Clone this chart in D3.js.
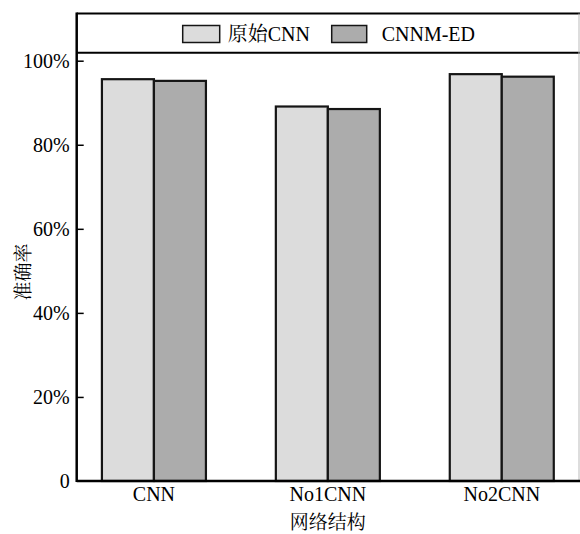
<!DOCTYPE html>
<html><head><meta charset="utf-8">
<script src="https://cdn.jsdelivr.net/npm/d3@7"></script>
<style>body{margin:0;background:#fff}svg{display:block}</style>
</head><body>
<script>
const categories = ["CNN", "No1CNN", "No2CNN"];
const seriesNames = ["原始CNN", "CNNM-ED"];
const original = [0.956, 0.891, 0.968];
const cnnmed = [0.952, 0.885, 0.962];
const yTicks = [0, 0.2, 0.4, 0.6, 0.8, 1.0];
const yTickLabels = ["0", "20%", "40%", "60%", "80%", "100%"];
const colors = ["#dcdcdc", "#acacac"];

const W = 580, H = 534;
const mLeft = 76.7, mRight = 579, mTop = 13.5, legendBottom = 52.7, mBottom = 481;
const font = "Liberation Serif, Noto Serif CJK SC, Noto Sans CJK SC, serif";

const svg = d3.select("body").append("svg").attr("width", W).attr("height", H)
  .attr("font-family", font);

const x = d3.scaleBand().domain(categories).range([mLeft, mRight])
  .paddingInner(0.402).paddingOuter(0.145);
const xs = d3.scaleBand().domain(seriesNames).range([0, x.bandwidth()]);
const y = d3.scaleLinear().domain([0, 1]).range([mBottom, 60.7]);

const data = categories.map((c, i) => ({cat: c, vals: [original[i], cnnmed[i]]}));

// bars
const g = svg.append("g");
data.forEach(d => {
  d.vals.forEach((v, j) => {
    g.append("rect")
      .attr("x", x(d.cat) + xs(seriesNames[j]))
      .attr("y", y(v))
      .attr("width", xs.bandwidth())
      .attr("height", y(0) - y(v))
      .attr("fill", colors[j])
      .attr("stroke", "#151515")
      .attr("stroke-width", 2.2);
  });
});

// frame
svg.append("line").attr("x1", mLeft).attr("x2", W).attr("y1", mTop).attr("y2", mTop)
  .attr("stroke", "#000").attr("stroke-width", 2);
svg.append("line").attr("x1", mLeft).attr("x2", W).attr("y1", legendBottom).attr("y2", legendBottom)
  .attr("stroke", "#000").attr("stroke-width", 2);
svg.append("line").attr("x1", mRight).attr("x2", mRight).attr("y1", mTop).attr("y2", mBottom)
  .attr("stroke", "#bbb").attr("stroke-width", 1);

// y axis
const yAxis = d3.axisLeft(y).tickValues(yTicks).tickFormat((d, i) => yTickLabels[i])
  .tickSizeInner(-7).tickSizeOuter(0).tickPadding(7);
const ya = svg.append("g").attr("transform", `translate(${mLeft},0)`).call(yAxis)
  .attr("font-family", font).attr("font-size", 20);
ya.select(".domain").remove();
ya.selectAll(".tick line").attr("stroke", "#000").attr("stroke-width", 1.5)
  .filter(d => d === 0).remove();
ya.selectAll(".tick text").attr("fill", "#000");
svg.append("line").attr("x1", mLeft).attr("x2", mLeft).attr("y1", mTop - 1).attr("y2", mBottom + 1)
  .attr("stroke", "#000").attr("stroke-width", 2.5);

// x axis
const xAxis = d3.axisBottom(x).tickSize(0).tickPadding(6);
const xa = svg.append("g").attr("transform", `translate(0,${mBottom})`).call(xAxis)
  .attr("font-family", font).attr("font-size", 20);
xa.select(".domain").remove();
xa.selectAll(".tick text").attr("fill", "#000");
svg.append("line").attr("x1", mLeft).attr("x2", W).attr("y1", mBottom).attr("y2", mBottom)
  .attr("stroke", "#000").attr("stroke-width", 2.5);

// axis titles
svg.append("text").attr("x", x(categories[1]) + x.bandwidth() / 2).attr("y", 529)
  .attr("text-anchor", "middle").attr("font-size", 19).text("网络结构");
svg.append("text").attr("transform", `translate(30,272) rotate(-90)`)
  .attr("text-anchor", "middle").attr("font-size", 19).text("准确率");

// legend
const legendX = [182.7, 331.7];
seriesNames.forEach((s, j) => {
  svg.append("rect").attr("x", legendX[j]).attr("y", 25.5).attr("width", j === 0 ? 37 : 35).attr("height", 17)
    .attr("fill", colors[j]).attr("stroke", "#151515").attr("stroke-width", 1.5);
  svg.append("text").attr("x", legendX[j] + (j === 0 ? 45 : 50)).attr("y", 41)
    .attr("font-size", 20).text(s);
});
</script>
</body></html>
